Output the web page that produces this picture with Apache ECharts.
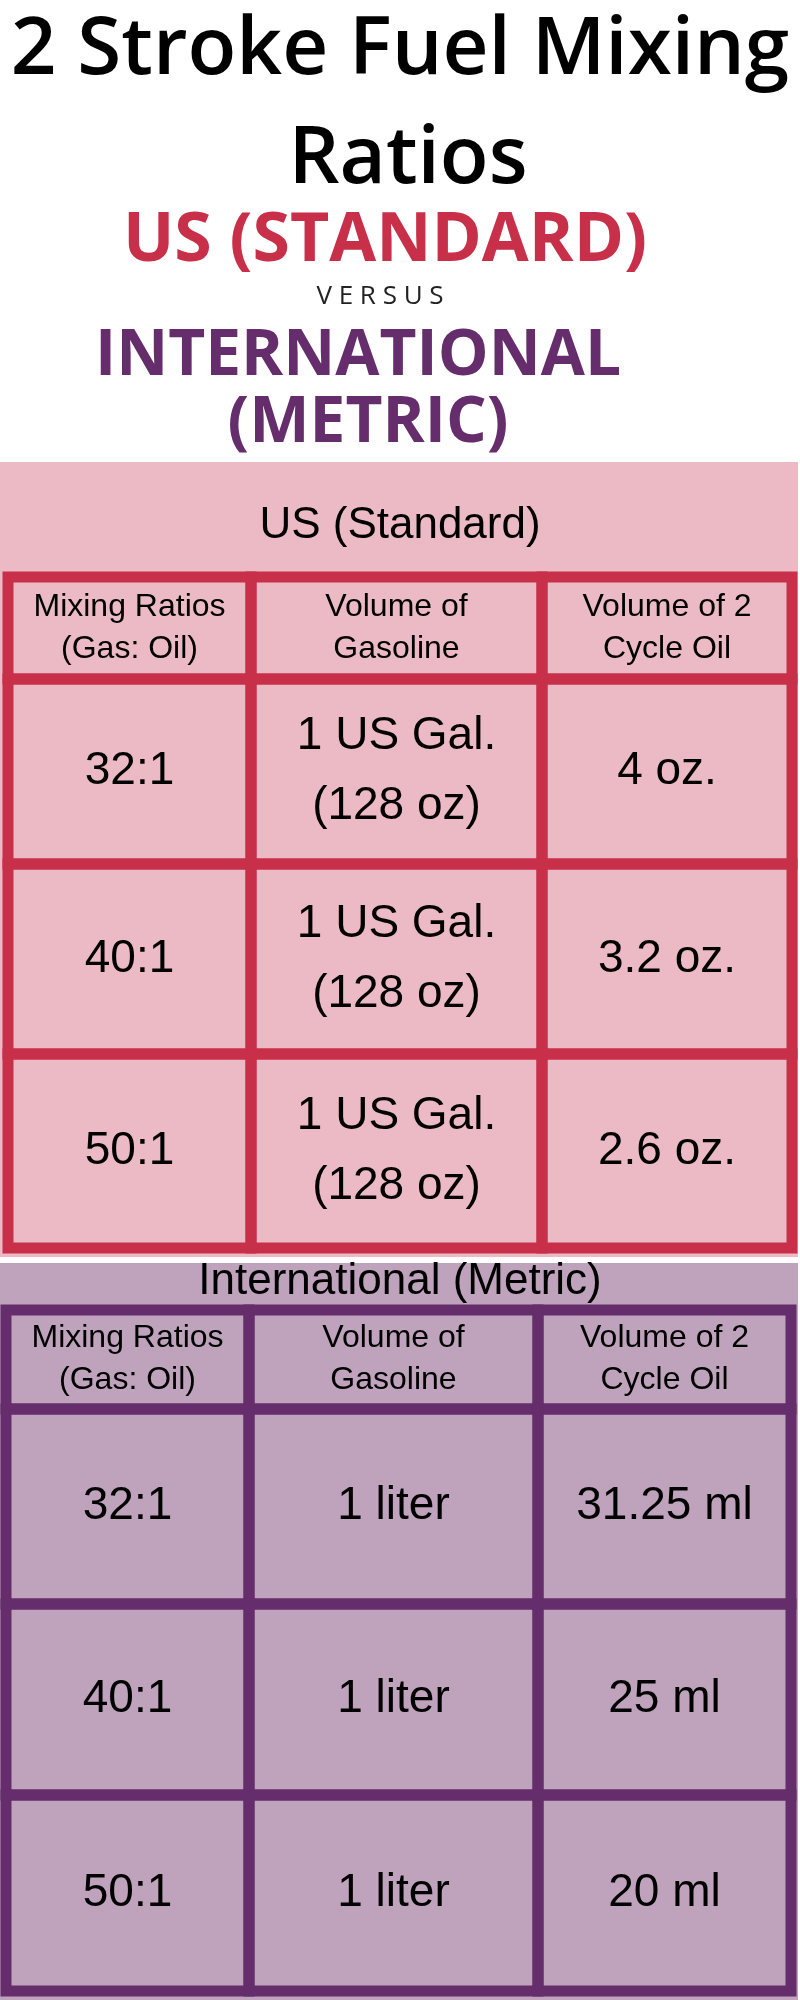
<!DOCTYPE html>
<html><head><meta charset="utf-8">
<script src="https://cdn.jsdelivr.net/npm/echarts@6/dist/echarts.min.js"></script>
<style>html,body{margin:0;background:#fff}#c{width:800px;height:2000px}</style>
</head><body><div id="c"></div>
<script>
const headers = ["Mixing Ratios\n(Gas: Oil)", "Volume of\nGasoline", "Volume of 2\nCycle Oil"];
const ratios = ["32:1", "40:1", "50:1"];
const usGasoline = ["1 US Gal.\n(128 oz)", "1 US Gal.\n(128 oz)", "1 US Gal.\n(128 oz)"];
const usOil = ["4 oz.", "3.2 oz.", "2.6 oz."];
const metricGasoline = ["1 liter", "1 liter", "1 liter"];
const metricOil = ["31.25 ml", "25 ml", "20 ml"];

const tables = [
  {title:"US (Standard)", gas:usGasoline, oil:usOil, color:"#c8304a", bg:"#ecbac4",
   bgTop:462, bgBottom:1257, titleY:526, cols:[8,251,542,792], rows:[577,679,864,1054,1248]},
  {title:"International (Metric)", gas:metricGasoline, oil:metricOil, color:"#652d6b", bg:"#bfa3bc",
   bgTop:1263, bgBottom:2000, titleY:1282, cols:[6,249,538,791], rows:[1310,1409,1604,1795,1991]}
];

const chart = echarts.init(document.getElementById('c'));
function title(text, x, y, font, fill){
  return {type:'text', x:x, y:y, style:{text:text, font:font, fill:fill, align:'center', verticalAlign:'middle'}};
}
const graphic = [
  title("2 Stroke Fuel Mixing", 400, 51, "600 80px 'Open Sans'", "#000"),
  title("Ratios", 408, 160, "600 80px 'Open Sans'", "#000"),
  title("US (STANDARD)", 385, 242, "bold 68px 'Open Sans'", "#c8304a"),
  title("V E R S U S", 380, 297, "500 26px 'Open Sans'", "#222"),
  title("INTERNATIONAL", 358, 357, "bold 64px 'Open Sans'", "#652d6b"),
  title("(METRIC)", 368, 424, "bold 64px 'Open Sans'", "#652d6b")
];
const series = [];
tables.forEach((t) => {
  graphic.push({type:'rect', shape:{x:0, y:t.bgTop, width:798, height:t.bgBottom-t.bgTop}, style:{fill:t.bg}, z:-1});
  graphic.push({type:'text', x:400, y:t.titleY, style:{text:t.title, font:"44px 'Liberation Sans'", fill:"#000", align:'center', verticalAlign:'middle'}});
  const data = [];
  headers.forEach((h,c) => data.push([c,0,h]));
  ratios.forEach((r,i) => { data.push([0,i+1,r]); data.push([1,i+1,t.gas[i]]); data.push([2,i+1,t.oil[i]]); });
  series.push({
    type:'custom', coordinateSystem:'none', data:data,
    renderItem:(params, api) => {
      const c = api.value(0), r = api.value(1);
      const x0=t.cols[c], x1=t.cols[c+1], y0=t.rows[r], y1=t.rows[r+1];
      const txt = data[params.dataIndex][2];
      return {type:'group', children:[
        {type:'rect', shape:{x:x0,y:y0,width:x1-x0,height:y1-y0}, style:{fill:'none', stroke:t.color, lineWidth:11}},
        {type:'text', x:(x0+x1)/2, y:(y0+y1)/2, style:{text:txt, align:'center', verticalAlign:'middle',
          font: r===0 ? "32px 'Liberation Sans'" : "46px 'Liberation Sans'", lineHeight: r===0?42:70, fill:'#000'}}
      ]};
    }
  });
});
chart.setOption({backgroundColor:'#fff', animation:false, graphic:graphic, series:series});
</script></body></html>
